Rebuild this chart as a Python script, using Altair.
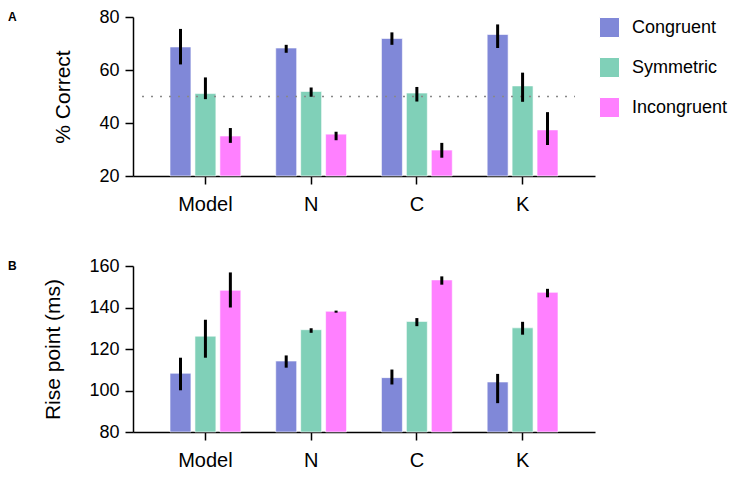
import altair as alt
import pandas as pd

categories = ["Model", "N", "C", "K"]
conditions = ["Congruent", "Symmetric", "Incongruent"]
colors = ["#8088d8", "#80d0b8", "#ff80ff"]

# Panel A: % Correct  (per category: Congruent, Symmetric, Incongruent)
acc_mean = {"Model": [68.7, 51.1, 35.1], "N": [68.3, 51.9, 35.8],
            "C": [71.9, 51.3, 29.8], "K": [73.4, 54.0, 37.4]}
acc_lo = {"Model": [62.1, 49.0, 32.5], "N": [66.5, 49.9, 33.5],
          "C": [69.5, 48.1, 26.9], "K": [68.3, 48.0, 31.7]}
acc_hi = {"Model": [75.5, 57.2, 38.1], "N": [69.5, 53.4, 36.7],
          "C": [74.2, 53.6, 32.5], "K": [77.2, 59.0, 44.1]}
acc_ticks = [20, 40, 60, 80]
chance = [50]

# Panel B: Rise point (ms)
rise_mean = {"Model": [108.3, 126.2, 148.3], "N": [114.2, 129.3, 138.2],
             "C": [106.2, 133.3, 153.3], "K": [104.1, 130.2, 147.3]}
rise_lo = {"Model": [100.1, 115.8, 140.0], "N": [111.0, 127.8, 137.5],
           "C": [102.9, 131.0, 151.0], "K": [93.9, 126.9, 144.9]}
rise_hi = {"Model": [115.8, 134.1, 156.9], "N": [116.9, 130.0, 138.5],
           "C": [110.1, 134.9, 155.0], "K": [108.0, 133.1, 149.0]}
rise_ticks = [80, 100, 120, 140, 160]


def table(mean, lo, hi):
    rows = []
    for c in categories:
        for i, k in enumerate(conditions):
            rows.append({"cat": c, "cond": k, "value": mean[c][i],
                         "lo": lo[c][i], "hi": hi[c][i]})
    return pd.DataFrame(rows)


FONT = "Liberation Sans"


def panel(df, title, ticks, letter, height, ref=None):
    lo_tick, hi_tick = ticks[0], ticks[-1]
    base = alt.Chart(df).encode(
        x=alt.X("cat:N", sort=categories, title=None,
                scale=alt.Scale(paddingInner=0.33, paddingOuter=0.35),
                axis=alt.Axis(labelAngle=0, labelFontSize=20, labelFont=FONT,
                              labelColor="black", tickSize=8, tickColor="black",
                              tickWidth=1.5, domainColor="black", domainWidth=1.5,
                              labelPadding=10)),
        xOffset=alt.XOffset("cond:N", sort=conditions,
                            scale=alt.Scale(paddingInner=0.16)),
    )
    bars = base.mark_bar(stroke="white", strokeOpacity=0.6, strokeWidth=1).encode(
        y=alt.Y("value:Q", title=title,
                scale=alt.Scale(domain=[lo_tick, hi_tick], nice=False, zero=False),
                axis=alt.Axis(values=ticks, grid=False, labelFontSize=18,
                              labelFont=FONT, labelColor="black", tickSize=8,
                              tickColor="black", tickWidth=1.5, domainColor="black",
                              domainWidth=1.5, titleFontSize=21, titleFont=FONT,
                              titleFontWeight="normal", titleColor="black",
                              titlePadding=25, labelPadding=6)),
        y2=alt.datum(lo_tick),
        color=alt.Color("cond:N", sort=conditions,
                        scale=alt.Scale(domain=conditions, range=colors),
                        legend=alt.Legend(title=None, orient="right",
                                          symbolType="square", symbolSize=400,
                                          symbolStrokeColor="white",
                                          symbolStrokeWidth=1, symbolOpacity=1,
                                          labelFontSize=18, labelFont=FONT,
                                          labelColor="black", rowPadding=15,
                                          labelOffset=12, offset=4, padding=0)),
    )
    err = base.mark_rule(color="black", strokeWidth=3).encode(y="lo:Q", y2="hi:Q")
    label = alt.Chart(pd.DataFrame({"t": [letter]})).mark_text(
        align="left", baseline="middle", fontSize=12, fontWeight="bold", font=FONT,
        color="black").encode(x=alt.value(-125), y=alt.value(0), text="t:N")
    layers = [bars]
    if ref is not None:
        line = alt.Chart(pd.DataFrame({"y": ref})).mark_rule(
            color="#888888", strokeDash=[2, 7], strokeWidth=1.3).encode(
            y="y:Q", x=alt.value(9), x2=alt.value(442))
        layers.append(line)
    layers += [err, label]
    return alt.layer(*layers).properties(
        width=462, height=height,
        view=alt.ViewBackground(stroke="transparent", strokeWidth=0))


a = panel(table(acc_mean, acc_lo, acc_hi), "% Correct", acc_ticks, "A", 159, chance)
b = panel(table(rise_mean, rise_lo, rise_hi), "Rise point (ms)", rise_ticks, "B", 166)

chart = alt.vconcat(a, b, spacing=43).properties(
    padding=0
).configure_view(stroke="transparent", strokeWidth=0).configure(font=FONT)

chart.save("out.html", embed_options={"renderer": "svg", "actions": False})
